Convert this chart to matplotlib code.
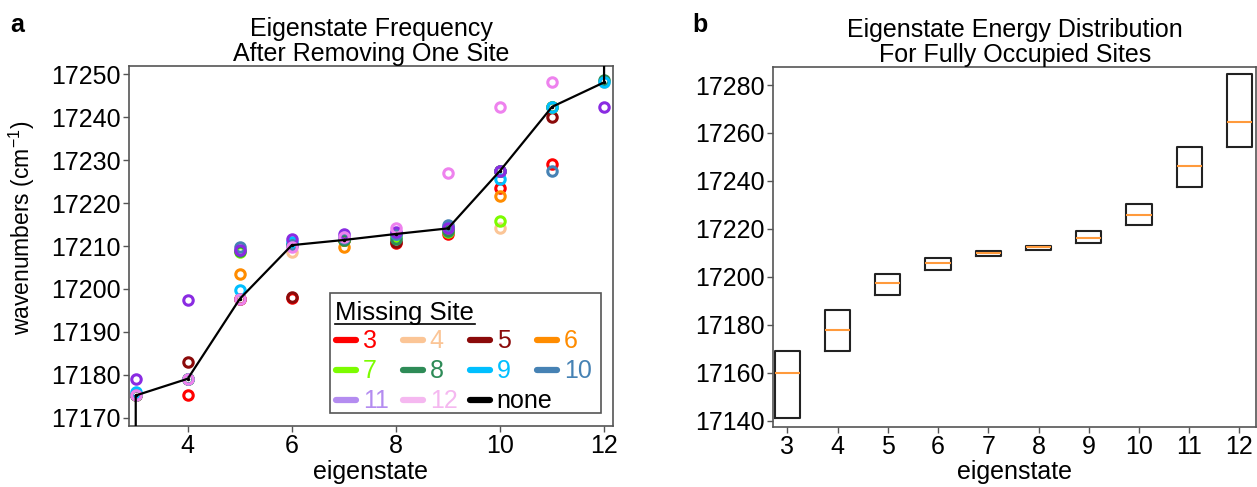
import numpy as np
import matplotlib
matplotlib.use("Agg")
import matplotlib.pyplot as plt
from matplotlib.lines import Line2D
from matplotlib.patches import Rectangle

plt.rcParams['font.family'] = ['Liberation Sans', 'DejaVu Sans']
plt.rcParams['mathtext.default'] = 'regular'
plt.rcParams['font.size'] = 18

nan = np.nan

# --- panel a: eigenstate frequency with one site removed ---
eigenstates = np.arange(3, 13)
none_vals = [17175.2, 17179.1, 17197.7, 17210.2, 17211.4, 17212.8, 17214.1, 17227.5, 17242.4, 17248.1]
# the unperturbed line continues off the plot at both ends
none_low, none_high = 17100, 17300

site3 = [17175.2, 17175.2, 17197.7, 17197.9, 17211.4, 17210.8, 17212.7, 17223.6, 17229.2, nan]
site4 = [17175.2, 17179.1, 17197.7, 17208.7, 17211.4, 17212.8, 17214.1, 17214.1, nan, 17248.1]
site5 = [17175.2, 17183.1, 17197.7, 17198.1, 17211.4, 17211.0, 17214.1, 17227.5, 17240.1, nan]
site6 = [17175.2, 17179.1, 17203.5, 17210.2, 17209.8, 17212.8, 17214.1, 17221.7, 17242.4, nan]
site7 = [17175.2, 17179.1, 17208.6, 17210.2, 17211.4, 17212.0, 17213.3, 17215.8, 17242.4, nan]
site8 = [17175.2, 17179.1, 17208.9, 17210.2, 17211.4, 17211.6, 17213.5, 17227.5, 17242.4, 17248.6]
site9 = [17175.9, 17179.1, 17199.8, 17211.0, 17212.0, 17212.8, 17214.5, 17225.5, 17242.4, 17248.1]
site10 = [17175.2, 17179.1, 17209.8, 17210.2, 17211.8, 17212.8, 17214.9, 17227.5, 17227.4, nan]
site11 = [17179.1, 17197.4, 17209.1, 17211.6, 17212.7, 17213.3, 17214.1, 17227.4, nan, 17242.4]
site12 = [17175.2, 17179.1, 17197.7, 17209.8, 17212.2, 17214.1, 17227.1, 17242.4, 17248.1, nan]

sites = [3, 4, 5, 6, 7, 8, 9, 10, 11, 12]
site_vals = [site3, site4, site5, site6, site7, site8, site9, site10, site11, site12]

point_colors = {3: '#ff0000', 4: '#fbc596', 5: '#8b0a0a', 6: '#ff8c00', 7: '#7cfc00',
                8: '#2e8b57', 9: '#00bfff', 10: '#4682b4', 11: '#8a2be2', 12: '#ee82ee'}
legend_colors = dict(point_colors)
legend_colors[11] = '#b48cf0'
legend_colors[12] = '#f5b8f0'
legend_colors['none'] = 'black'
legend_rows = [[3, 4, 5, 6], [7, 8, 9, 10], [11, 12, 'none']]

# --- panel b: box statistics for fully occupied sites ---
q1 = [17141.0, 17169.0, 17192.5, 17202.7, 17208.8, 17211.3, 17214.2, 17221.8, 17237.4, 17254.3]
med = [17159.8, 17177.8, 17197.6, 17205.7, 17209.8, 17212.3, 17216.3, 17225.7, 17246.3, 17264.6]
q3 = [17169.0, 17186.0, 17201.2, 17208.0, 17210.8, 17213.0, 17219.0, 17230.4, 17254.3, 17284.8]

spine_col = '#555555'
W, H = 1257, 487

fig = plt.figure(figsize=(W / 100, H / 100), dpi=100)
ax1 = fig.add_axes([0.1026, 0.1253, 0.385, 0.740])
ax2 = fig.add_axes([0.6152, 0.1238, 0.3844, 0.738])


def px(x, y):
    # pixel position (from top-left) to figure fraction
    return x / W, 1 - y / H


for s, vals in zip(sites, site_vals):
    ax1.plot(eigenstates, vals, linestyle='none', marker='o', ms=6.8, mew=2.2,
             mfc='none', mec=point_colors[s], zorder=2)

none_x = np.concatenate([[eigenstates[0]], eigenstates, [eigenstates[-1]]])
none_y = np.concatenate([[none_low], none_vals, [none_high]])
ax1.plot(none_x, none_y, color='black', lw=1.6, marker='.', ms=3, zorder=3)

ax1.set_xlim(2.87, 12.17)
ax1.set_ylim(17168.1, 17252)
ax1.set_xticks([4, 6, 8, 10, 12])
ax1.set_yticks(np.arange(17170, 17251, 10))
ax1.set_xlabel('eigenstate', labelpad=1)
ax1.set_ylabel('wavenumbers (cm$^{-1}$)', fontsize=16.5)
ax1.yaxis.set_label_coords(-0.19, 0.55)
ax1.set_title('Eigenstate Frequency\nAfter Removing One Site', fontsize=18, pad=3,
              linespacing=1.05)

# legend drawn by hand so the columns keep an even width
fx0, fy0 = px(330, 413)
fx1, fy1 = px(601, 293)
fig.add_artist(Rectangle((fx0, fy0), fx1 - fx0, fy1 - fy0, transform=fig.transFigure,
                         facecolor='white', edgecolor=spine_col, lw=1.2, zorder=5))
tx, ty = px(335, 320)
title = fig.text(tx, ty, 'Missing Site', fontsize=18.5, va='baseline', ha='left', zorder=6)
ux0, uy = px(335, 323.5)
ux1, _ = px(475, 323.5)
fig.add_artist(Line2D([ux0, ux1], [uy, uy], color='black', lw=1.2,
                      transform=fig.transFigure, zorder=6))
for r, row in enumerate(legend_rows):
    yc = 340 + 30 * r
    for c, k in enumerate(row):
        x0 = 331.7 + 67 * c
        hx0, hy = px(x0 + 4, yc)
        hx1, _ = px(x0 + 24, yc)
        fig.add_artist(Line2D([hx0, hx1], [hy, hy], color=legend_colors[k], lw=4.5,
                              solid_capstyle='round', transform=fig.transFigure, zorder=6))
        lx, ly = px(x0 + 31, yc + 1)
        fig.text(lx, ly, str(k), fontsize=18, color=legend_colors[k], va='center',
                 ha='left', zorder=6)

# box plot, boxes only
stats = []
for a, m, b in zip(q1, med, q3):
    stats.append(dict(med=m, q1=a, q3=b, whislo=a, whishi=b, fliers=[]))
ax2.bxp(stats, positions=eigenstates, widths=0.5, showfliers=False, showcaps=False,
        boxprops=dict(color='#222222', lw=1.5),
        whiskerprops=dict(color='#222222', lw=1.5),
        medianprops=dict(color='#ff9a3c', lw=1.5))
ax2.set_xlim(2.72, 12.34)
ax2.set_ylim(17137.5, 17287.4)
ax2.set_xticks(eigenstates)
ax2.set_xticklabels([str(e) for e in eigenstates])
ax2.set_yticks(np.arange(17140, 17281, 20))
ax2.set_xlabel('eigenstate', labelpad=1)
ax2.set_title('Eigenstate Energy Distribution\nFor Fully Occupied Sites', fontsize=18,
              pad=3, linespacing=1.05)

for ax in (ax1, ax2):
    for sp in ax.spines.values():
        sp.set_color(spine_col)
        sp.set_linewidth(1.2)
    ax.tick_params(length=4, width=1, color=spine_col, labelsize=18, pad=2)

fig.text(0.008, 0.935, 'a', fontsize=18, fontweight='bold')
fig.text(0.551, 0.935, 'b', fontsize=18, fontweight='bold')

fig.savefig('out.png', dpi=100)
